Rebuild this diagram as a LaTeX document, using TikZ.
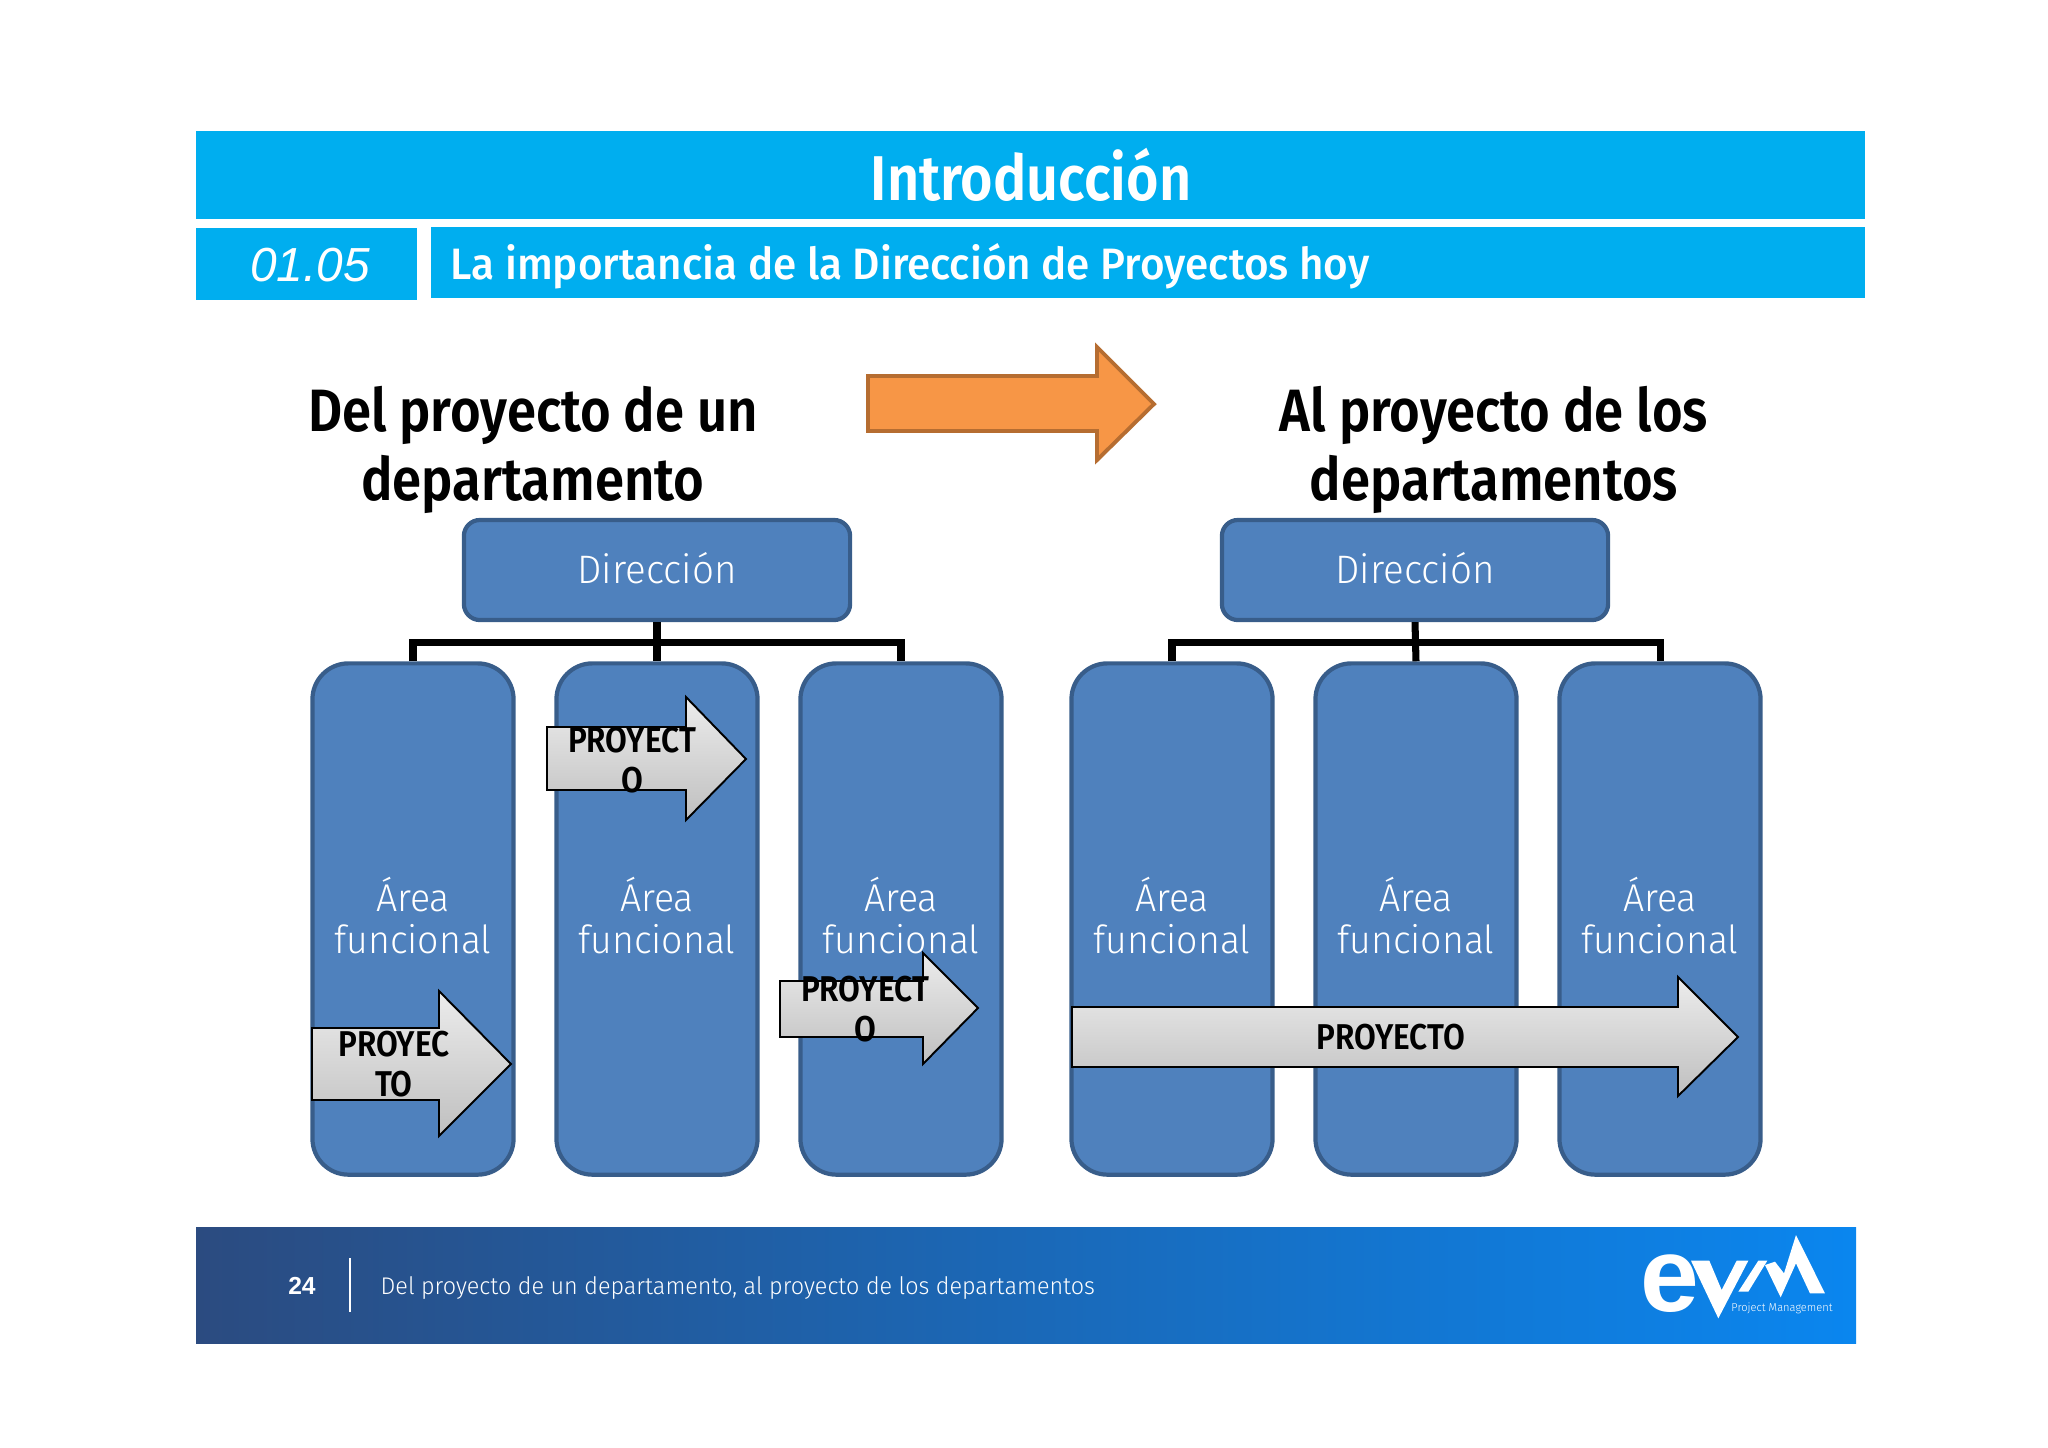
\documentclass[tikz,border=0pt]{standalone}
\usepackage{fontspec}
\setmainfont{Fira Sans}
\newfontfamily\dinfont[UprightFont=* Medium,BoldFont=* SemiBold,FakeStretch=0.88]{Fira Sans}
\newfontfamily\subfont[UprightFont=* Medium,FakeStretch=0.96]{Fira Sans}
\newfontfamily\lightfont[UprightFont=* Light,FakeStretch=0.97]{Fira Sans}
\newfontfamily\numfont{Liberation Sans}
\usetikzlibrary{positioning}
\definecolor{barcyan}{HTML}{00AEEF}
\definecolor{boxblue}{HTML}{4F81BD}
\definecolor{boxline}{HTML}{385D8A}
\definecolor{naranja}{HTML}{F79646}
\definecolor{naranjaline}{HTML}{B66D31}
\definecolor{pieizq}{HTML}{2B4B80}
\definecolor{pieder}{HTML}{0A86EF}
\tikzset{
  direccion/.style = {draw=boxline, fill=boxblue, line width=1.2pt, rounded corners=0.16cm,
                      minimum width=3.86cm, minimum height=1.0cm, text=white, text depth=0.04cm,
                      font=\lightfont\fontsize{11.3}{13}\selectfont},
  area/.style     = {draw=boxline, fill=boxblue, line width=1.2pt, rounded corners=0.36cm,
                     minimum width=2.01cm, minimum height=5.11cm, text=white, align=center,
                     text depth=0.08cm, font=\lightfont\fontsize{11}{11.9}\selectfont},
  conector/.style = {line width=2pt, black},
  flecha/.style   = {draw=black, line width=0.55pt, top color=gray!15, bottom color=gray!50},
  rotulo/.style   = {inner sep=0pt, align=center, font=\dinfont\bfseries\fontsize{10.2}{11.6}\selectfont},
  titulo/.style   = {inner sep=0pt, align=center, font=\dinfont\bfseries\fontsize{17}{19.7}\selectfont}
}
\begin{document}
\begin{tikzpicture}[x=0.01cm, y=-0.01cm]
  \useasboundingbox (0,0) rectangle (2048,1447);

  % cabecera
  \fill[barcyan] (196,131) rectangle (1865,219);
  \fill[barcyan] (196,228) rectangle (417,300);
  \fill[barcyan] (431,227) rectangle (1865,298);
  \node[text=white, inner sep=0pt, font=\dinfont\bfseries\fontsize{18}{20}\selectfont] (tema) at (1031,175) {Introducción};
  \node[text=white, inner sep=0pt, font=\numfont\itshape\fontsize{13.6}{15}\selectfont] (seccion) at (310,265) {01.05};
  \node[text=white, inner sep=0pt, anchor=west, font=\subfont\fontsize{12.5}{15}\selectfont] (subtema) at (450,266) {La importancia de la Dirección de Proyectos hoy};

  % titulos y flecha central
  \node[titulo] (deluno) at (533,450) {Del proyecto de un\\departamento};
  \node[titulo] (alos) at (1494,450) {Al proyecto de los\\departamentos};
  \draw[draw=naranjaline, fill=naranja, line width=1.1pt]
    (868,376) -- (1097,376) -- (1097,347) -- (1154,404) -- (1097,460) -- (1097,431) -- (868,431) -- cycle;

  % izquierda
  \node[direccion] (dirA) at (657,570) {Dirección};
  \node[area] (areaA1) at (413,919) {Área\\funcional};
  \node[area] (areaA2) at (657,919) {Área\\funcional};
  \node[area] (areaA3) at (901,919) {Área\\funcional};
  \coordinate (barA) at (657,642);
  \draw[conector] (dirA.south) -- (areaA2.north);
  \draw[conector] (areaA1.north) |- (barA) -| (areaA3.north);

  % derecha
  \node[direccion] (dirB) at (1415,570) {Dirección};
  \node[area] (areaB1) at (1172,919) {Área\\funcional};
  \node[area] (areaB2) at (1416,919) {Área\\funcional};
  \node[area] (areaB3) at (1660,919) {Área\\funcional};
  \coordinate (barB) at (1416,642);
  \draw[conector] (dirB.south) -- (areaB2.north);
  \draw[conector] (areaB1.north) |- (barB) -| (areaB3.north);

  % flechas de proyecto
  \draw[flecha] (312,1028) -- (439,1028) -- (439,991) -- (511,1064) -- (439,1136) -- (439,1100) -- (312,1100) -- cycle;
  \draw[flecha] (547,727) -- (686,727) -- (686,697) -- (746,759) -- (686,820) -- (686,790) -- (547,790) -- cycle;
  \draw[flecha] (780,981) -- (923,981) -- (923,953) -- (978,1008) -- (923,1064) -- (923,1037) -- (780,1037) -- cycle;
  \draw[flecha] (1072,1007) -- (1678,1007) -- (1678,977) -- (1738,1037) -- (1678,1096) -- (1678,1067) -- (1072,1067) -- cycle;
  \node[rotulo] (proyA) at (394,1064) {PROYEC\\TO};
  \node[rotulo] (proyB) at (632,760) {PROYECT\\O};
  \node[rotulo] (proyC) at (865,1009) {PROYECT\\O};
  \node[rotulo] (proyD) at (1391,1037) {PROYECTO};

  % pie
  \shade[left color=pieizq, right color=pieder, shading angle=90] (196,1227) rectangle (1856,1343);
  \draw[white, line width=0.8pt] (350,1258) -- (350,1312);
  \node[text=white, inner sep=0pt, font=\numfont\bfseries\fontsize{7}{8}\selectfont] (pagina) at (302,1286) {24};
  \node[text=white, inner sep=0pt, anchor=west, font=\lightfont\fontsize{6.85}{8}\selectfont] (pie) at (380,1288) {Del proyecto de un departamento, al proyecto de los departamentos};

  % logo
  \node[text=white, inner sep=0pt, font=\numfont\bfseries\fontsize{30}{30}\selectfont] (logoe) at (1670,1284) {e};
  \begin{scope}[shift={(1580,1210)}, scale=0.3333]
    \fill[white] (333,152) -- (388,152) -- (425,240) -- (470,152) -- (505,152) -- (415,325) -- cycle;
    \fill[white] (475,245) -- (535,152) -- (562,152) -- (505,245) -- cycle;
    \fill[white] (555,165) -- (585,155) -- (612,190) -- (648,75) -- (735,250) -- (690,250) -- (648,160) -- (602,262) -- cycle;
  \end{scope}
  \node[text=white, inner sep=0pt, font=\lightfont\fontsize{3.25}{4}\selectfont] (logotxt) at (1782,1308) {Project Management};
\end{tikzpicture}
\end{document}
